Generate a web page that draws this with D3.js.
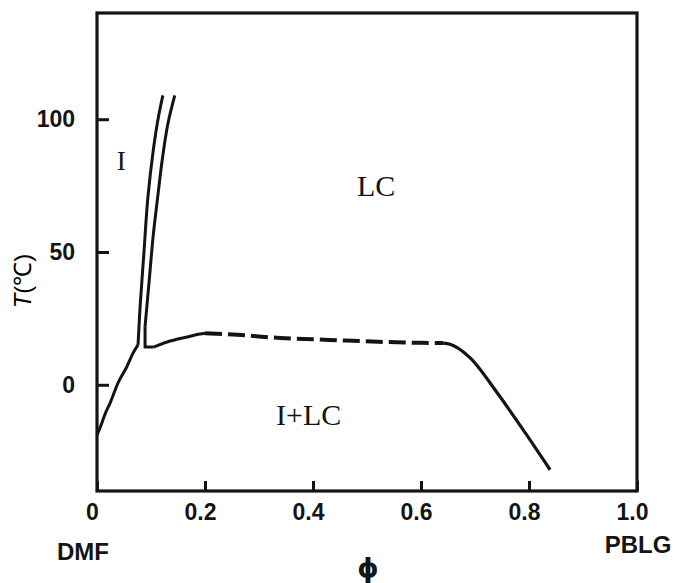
<!DOCTYPE html>
<html>
<head>
<meta charset="utf-8">
<script src="https://cdn.jsdelivr.net/npm/d3@7"></script>
<style>
  html, body { margin: 0; padding: 0; background: #fff; }
  svg { display: block; }
</style>
</head>
<body>
<svg id="chart" width="675" height="583"></svg>
<script>
// Phase diagram of PBLG in DMF: temperature T (°C) vs. polymer volume fraction φ
const phiTicks = [0, 0.2, 0.4, 0.6, 0.8, 1.0];
const tempTicks = [0, 50, 100];

// Lower-left solubility curve, from pure DMF up to the kink
const lowerLeftCurve = [[0, -19], [0.006, -16], [0.015, -11], [0.024, -7], [0.039, 0.7],
  [0.055, 6.7], [0.067, 12], [0.076, 15]];
// Inner (left) line of the narrow biphasic band I / LC
const innerBand = [[0.076, 15], [0.080, 30], [0.087, 50], [0.094, 70], [0.104, 88],
  [0.113, 100], [0.122, 109]];
// Outer (right) line of the band, with its short horizontal foot
const outerFoot = [[0.105, 14.2], [0.089, 14.2], [0.089, 22]];
const outerBand = [[0.089, 22], [0.097, 40], [0.104, 56], [0.112, 70], [0.121, 85],
  [0.131, 98], [0.144, 109]];
// Upper boundary of the I+LC region
const riseBranch = [[0.105, 14.2], [0.130, 16.1], [0.167, 18.0], [0.191, 19.1], [0.20, 19.4]];
const dashedBranch = [[0.20, 19.4], [0.26, 18.8], [0.34, 17.6], [0.43, 16.9], [0.52, 16.2],
  [0.60, 15.8], [0.641, 15.7]];
const fallBranch = [[0.641, 15.7], [0.655, 15.2], [0.667, 14.0], [0.691, 10.1], [0.741, -3.0],
  [0.789, -16.9], [0.839, -32.0]];

const regionLabels = [
  { text: "I", phi: 0.045, t: 81, size: 27 },
  { text: "LC", phi: 0.517, t: 71, size: 30 },
  { text: "I+LC", phi: 0.392, t: -15, size: 30 }
];

const svg = d3.select("#chart");
const plotLeft = 97, plotRight = 637, plotTop = 13, plotBottom = 491;

const x = d3.scaleLinear().domain([0, 1]).range([plotLeft, plotRight]);
const y = d3.scaleLinear().domain([-40, 140]).range([plotBottom, plotTop]);

const ink = "#141414";
const tickFont = "'Liberation Sans', Arial, sans-serif";
const serif = "'Liberation Serif', 'Times New Roman', serif";

// Bottom axis: inward ticks, labels below
const xAxis = d3.axisBottom(x)
  .tickValues(phiTicks)
  .tickSize(-10)
  .tickPadding(13)
  .tickFormat(d => d === 0 ? "0" : d.toFixed(1));
const gx = svg.append("g").attr("transform", `translate(0,${plotBottom})`).call(xAxis);
gx.select(".domain").remove();
gx.selectAll(".tick line").attr("stroke", ink).attr("stroke-width", 3);
gx.selectAll(".tick text")
  .attr("dx", -5)
  .style("fill", ink)
  .style("font-family", tickFont)
  .style("font-weight", "bold")
  .style("font-size", "23px");

// Left axis: inward ticks, labels left
const yAxis = d3.axisLeft(y)
  .tickValues(tempTicks)
  .tickSize(-12)
  .tickPadding(22)
  .tickFormat(d3.format("d"));
const gy = svg.append("g").attr("transform", `translate(${plotLeft},0)`).call(yAxis);
gy.select(".domain").remove();
gy.selectAll(".tick line").attr("stroke", ink).attr("stroke-width", 3);
gy.selectAll(".tick text")
  .style("fill", ink)
  .style("font-family", tickFont)
  .style("font-weight", "bold")
  .style("font-size", "23px");

// Plot frame
svg.append("rect")
  .attr("x", x(0)).attr("y", y(140))
  .attr("width", x(1) - x(0)).attr("height", y(-40) - y(140))
  .attr("fill", "none").attr("stroke", ink).attr("stroke-width", 3.2);

// Phase boundaries
const smooth = d3.line().x(d => x(d[0])).y(d => y(d[1])).curve(d3.curveMonotoneX);
const band = d3.line().x(d => x(d[0])).y(d => y(d[1])).curve(d3.curveCatmullRom.alpha(0.5));
const straight = d3.line().x(d => x(d[0])).y(d => y(d[1]));

const g = svg.append("g").attr("fill", "none").attr("stroke", ink)
  .attr("stroke-linejoin", "miter").attr("stroke-linecap", "butt");

g.append("path").attr("d", smooth(lowerLeftCurve)).attr("stroke-width", 3);
g.append("path").attr("d", band(innerBand)).attr("stroke-width", 3);
g.append("path").attr("d", straight(outerFoot)).attr("stroke-width", 3);
g.append("path").attr("d", band(outerBand)).attr("stroke-width", 3);
g.append("path").attr("d", smooth(riseBranch)).attr("stroke-width", 3);
g.append("path").attr("d", smooth(dashedBranch)).attr("stroke-width", 4)
  .attr("stroke-dasharray", "17,6");
g.append("path").attr("d", smooth(fallBranch)).attr("stroke-width", 3.2);

// Region labels
svg.append("g").selectAll("text").data(regionLabels).join("text")
  .attr("x", d => x(d.phi)).attr("y", d => y(d.t))
  .attr("text-anchor", "middle")
  .style("fill", ink)
  .style("font-family", serif)
  .style("font-size", d => d.size + "px")
  .text(d => d.text);

// End-member and axis titles
const bold = (sel) => sel.style("fill", ink)
  .style("font-family", tickFont).style("font-weight", "bold");

svg.append("text").attr("x", 83).attr("y", 560).attr("text-anchor", "middle")
  .style("font-size", "24px").call(bold).text("DMF");
svg.append("text").attr("x", 638).attr("y", 553).attr("text-anchor", "middle")
  .style("font-size", "24px").call(bold).text("PBLG");
svg.append("text").attr("x", 368).attr("y", 577).attr("text-anchor", "middle")
  .style("font-size", "27px").call(bold)
  .style("font-family", "'DejaVu Sans', sans-serif").text("ϕ");

const yTitle = svg.append("text")
  .attr("transform", "translate(31,281) rotate(-90)")
  .attr("text-anchor", "middle")
  .style("fill", "#000")
  .style("font-family", tickFont)
  .style("font-size", "24px");
yTitle.append("tspan").style("font-style", "italic").text("T");
yTitle.append("tspan").text("(℃)");
</script>
</body>
</html>
